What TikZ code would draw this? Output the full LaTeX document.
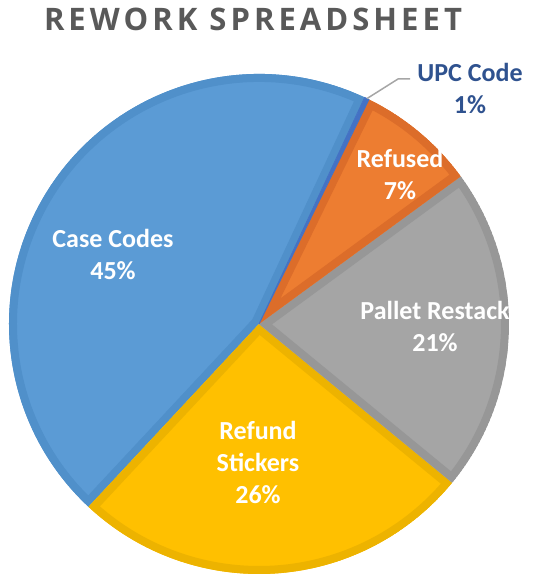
\documentclass[tikz,border=0pt]{standalone}
\usepackage{fontspec}
\setmainfont{Carlito}
\newfontfamily\titlefont[LetterSpace=13]{Open Sans}
\usetikzlibrary{positioning, calc}

\definecolor{caseblue}{HTML}{5B9BD5}
\definecolor{caseedge}{HTML}{5090CA}
\definecolor{upcblue}{HTML}{4472C4}
\definecolor{upcedge}{HTML}{3E67B2}
\definecolor{refusedorange}{HTML}{ED7D31}
\definecolor{refusededge}{HTML}{DC6D2A}
\definecolor{palletgray}{HTML}{A5A5A5}
\definecolor{palletedge}{HTML}{979797}
\definecolor{refundyellow}{HTML}{FFC000}
\definecolor{refundedge}{HTML}{EDB300}
\definecolor{upctext}{HTML}{2F528F}
\definecolor{titlegray}{HTML}{595959}

\tikzset{
  slicelabel/.style={text=white, font=\bfseries\fontsize{26}{32}\selectfont, align=center},
  rim/.style={line width=16pt, line join=round},
}

\begin{document}
\begin{tikzpicture}[x=1pt, y=1pt]
        \useasboundingbox (0,0) rectangle (533,578);

        \node[font=\titlefont\bfseries\fontsize{31}{36}\selectfont, text=titlegray] (title) at (253,559) {REWORK SPREADSHEET};

        \coordinate (o) at (259,254);

        % Case Codes
        \begin{scope}
        \clip (o) -- ++(65:250) arc (65:227:250) -- cycle;
        \filldraw[fill=caseblue, draw=caseedge, rim] (o) -- ++(65:250) arc (65:227:250) -- cycle;
        \end{scope}
        % Refund Stickers
        \begin{scope}
        \clip (o) -- ++(227:250) arc (227:320.6:250) -- cycle;
        \filldraw[fill=refundyellow, draw=refundedge, rim] (o) -- ++(227:250) arc (227:320.6:250) -- cycle;
        \end{scope}
        % Pallet Restack
        \begin{scope}
        \clip (o) -- ++(-39.4:250) arc (-39.4:36.2:250) -- cycle;
        \filldraw[fill=palletgray, draw=palletedge, rim] (o) -- ++(-39.4:250) arc (-39.4:36.2:250) -- cycle;
        \end{scope}
        % Refused
        \begin{scope}
        \clip (o) -- ++(36.2:250) arc (36.2:63.9:250) -- cycle;
        \filldraw[fill=refusedorange, draw=refusededge, rim] (o) -- ++(36.2:250) arc (36.2:63.9:250) -- cycle;
        \end{scope}
        % UPC Code
        \filldraw[fill=upcblue, draw=upcblue, line width=0.8pt] (o) -- ++(63.9:250) arc (63.9:65:250) -- cycle;

        \node[slicelabel] (casecodes) at (113,324) {Case Codes\\45\%};
        \node[slicelabel] (refund) at (258,116) {Refund\\Stickers\\26\%};
        \node[slicelabel] (pallet) at (435,252) {Pallet Restack\\21\%};
        \node[slicelabel] (refused) at (400,404) {Refused\\7\%};
        \node[slicelabel, text=upctext] (upc) at (470,490) {UPC Code\\1\%};

        \coordinate (upcedge) at ($(o)+(64.4:250)$);
        \coordinate (bend) at (398,499);
        \coordinate (leadend) at (410,499);
        \draw[gray!70, line width=1.5pt] (upcedge) -- (bend) -- (leadend);
\end{tikzpicture}
\end{document}
